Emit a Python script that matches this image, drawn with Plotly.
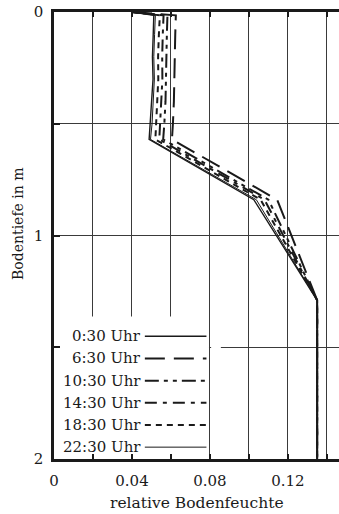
import plotly.graph_objects as go

# Soil moisture profiles over one day (depth in m, relative soil moisture)
depth = [0.0, 0.015, 0.10, 0.20, 0.30, 0.40, 0.50, 0.57, 0.84, 1.29, 2.0]

times = ["0:30 Uhr", "6:30 Uhr", "10:30 Uhr", "14:30 Uhr", "18:30 Uhr", "22:30 Uhr"]

moist_0030 = [0.040, 0.0512, 0.0509, 0.0505, 0.0508, 0.0502, 0.0496, 0.0488, 0.1025, 0.135, 0.135]
moist_0630 = [0.040, 0.0625, 0.0622, 0.0620, 0.0618, 0.0615, 0.0610, 0.0605, 0.1145, 0.135, 0.135]
moist_1030 = [0.040, 0.0582, 0.0579, 0.0576, 0.0576, 0.0572, 0.0566, 0.0560, 0.1100, 0.135, 0.135]
moist_1430 = [0.040, 0.0562, 0.0558, 0.0555, 0.0556, 0.0551, 0.0546, 0.0540, 0.1080, 0.135, 0.135]
moist_1830 = [0.040, 0.0543, 0.0538, 0.0534, 0.0535, 0.0530, 0.0525, 0.0520, 0.1060, 0.135, 0.135]
moist_2230 = [0.040, 0.0520, 0.0516, 0.0512, 0.0515, 0.0510, 0.0503, 0.0495, 0.1038, 0.135, 0.135]

x_tickvals = [0, 0.02, 0.04, 0.06, 0.08, 0.10, 0.12, 0.14]
x_ticktext = ["0", "", "0.04", "", "0.08", "", "0.12", ""]
y_tickvals = [0, 0.5, 1, 1.5, 2]
y_ticktext = ["0", "", "1", "", "2"]

series = [moist_0030, moist_0630, moist_1030, moist_1430, moist_1830, moist_2230]
styles = [
    dict(width=1.4, dash="solid"),
    dict(width=2.0, dash="20px,9px"),
    dict(width=2.0, dash="14px,5px,4px,5px,4px,5px"),
    dict(width=2.0, dash="12px,6px,4px,6px"),
    dict(width=2.0, dash="6px,5px"),
    dict(width=1.0, dash="solid"),
]

FONT = "DejaVu Serif"
INK = "#1a1a1a"

fig = go.Figure()
for name, vals, st in zip(times, series, styles):
    fig.add_trace(go.Scatter(
        x=vals, y=depth, mode="lines", name=name,
        line=dict(color=INK, width=st["width"], dash=st["dash"]),
    ))

# white panel behind the key, hiding the grid there
shapes = [
    dict(type="rect", xref="x", yref="y", x0=0, x1=0.0795, y0=1.362, y1=2.0,
         fillcolor="white", line=dict(width=0), layer="between"),
    dict(type="rect", xref="x", yref="y", x0=0.0806, x1=0.0856, y0=1.49, y1=1.51,
         fillcolor="white", line=dict(width=0), layer="between"),
]
annotations = []

# key: label right-aligned, line sample to its right
key_top, key_step = 1.451, 0.0992
key_text_x, key_line_x0, key_line_x1 = 0.0457, 0.0466, 0.0782
for i, (name, st) in enumerate(zip(times, styles)):
    yy = key_top + i * key_step
    annotations.append(dict(
        x=key_text_x, y=yy, xref="x", yref="y", text=name, showarrow=False,
        xanchor="right", yanchor="middle", font=dict(family=FONT, size=15, color=INK),
    ))
    shapes.append(dict(
        type="line", xref="x", yref="y", x0=key_line_x0, x1=key_line_x1, y0=yy, y1=yy,
        line=dict(color=INK, width=st["width"], dash=st["dash"]), layer="above",
    ))

# axis titles
annotations.append(dict(
    x=0.5, y=-0.099, xref="paper", yref="paper", text="relative Bodenfeuchte",
    showarrow=False, xanchor="center", yanchor="middle",
    font=dict(family=FONT, size=15.5, color=INK),
))
annotations.append(dict(
    x=-0.126, y=0.526, xref="paper", yref="paper", text="Bodentiefe in m",
    showarrow=False, textangle=-90, xanchor="center", yanchor="middle",
    font=dict(family=FONT, size=14, color=INK),
))

fig.update_layout(
    width=339, height=514,
    margin=dict(l=54, r=0, t=12, b=55),
    paper_bgcolor="white", plot_bgcolor="white",
    showlegend=False,
    font=dict(family=FONT, size=15, color=INK),
    shapes=shapes, annotations=annotations,
    xaxis=dict(
        range=[0, 0.1462], tickvals=x_tickvals, ticktext=x_ticktext,
        ticks="inside", ticklen=5, tickwidth=2, tickcolor=INK,
        showline=True, linewidth=2.5, linecolor=INK, mirror="ticks",
        showgrid=True, gridcolor="#3a3a3a", gridwidth=1, zeroline=False,
        ticklabelstandoff=6,
    ),
    yaxis=dict(
        range=[2, 0], tickvals=y_tickvals, ticktext=y_ticktext,
        ticks="inside", ticklen=6, tickwidth=2, tickcolor=INK,
        showline=True, linewidth=2.5, linecolor=INK, mirror=False,
        showgrid=True, gridcolor="#3a3a3a", gridwidth=1, zeroline=False,
        ticklabelstandoff=5,
    ),
)

fig.write_html("out.html")
